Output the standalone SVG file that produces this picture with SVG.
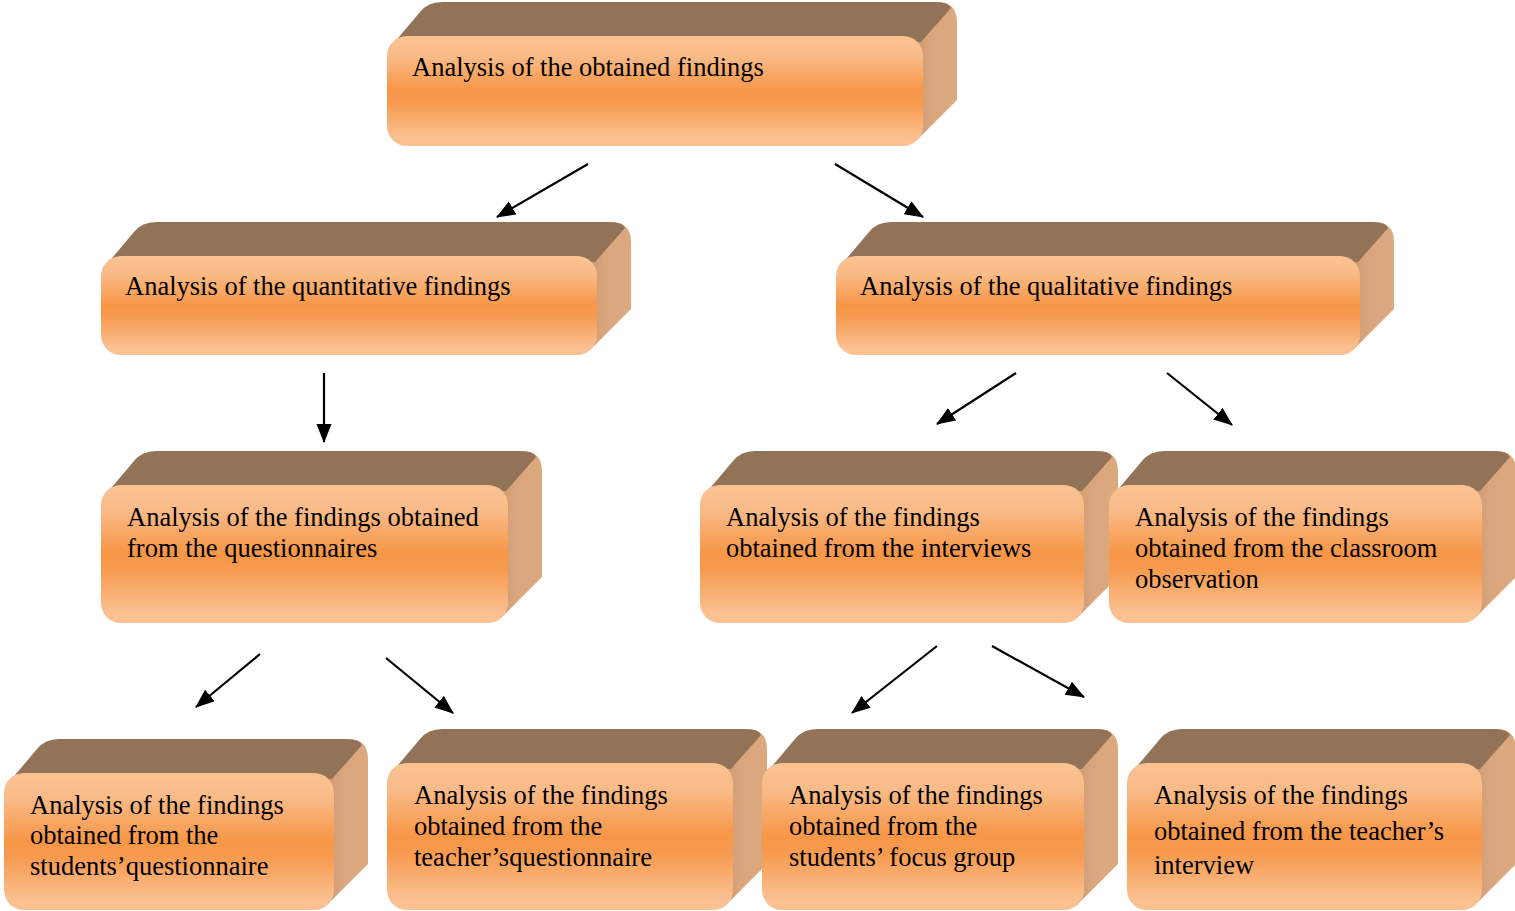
<svg xmlns="http://www.w3.org/2000/svg" width="1515" height="911" viewBox="0 0 1515 911">
<defs>
<linearGradient id="gFront" x1="0" y1="0" x2="0" y2="1">
<stop offset="0" stop-color="#FAC293"/>
<stop offset="0.18" stop-color="#F9BB88"/>
<stop offset="0.5" stop-color="#F79646"/>
<stop offset="0.62" stop-color="#F79B50"/>
<stop offset="0.92" stop-color="#FAC090"/>
<stop offset="1" stop-color="#FAC293"/>
</linearGradient>
<linearGradient id="gRight" x1="0" y1="0" x2="1" y2="0">
<stop offset="0" stop-color="#C4916B"/>
<stop offset="0.5" stop-color="#D9A57D"/>
<stop offset="1" stop-color="#DCA97F"/>
</linearGradient>
<marker id="ah" markerWidth="20" markerHeight="16" refX="18" refY="7.5" orient="auto" markerUnits="userSpaceOnUse">
<path d="M0,0 L19,7.5 L0,15 Z" fill="#000"/>
</marker>
<style>
.rf{fill:url(#gRight);}
.tf{fill:#937358;}
.ff{fill:url(#gFront);}
.ar{stroke:#000;stroke-width:2.2;fill:none;marker-end:url(#ah);}
</style>
</defs>
<rect width="1515" height="911" fill="#fff"/>
<g font-family="'Liberation Serif', 'Times New Roman', 'DejaVu Serif', serif" font-size="26.5" fill="#000">

<g id="box1">
<path class="rf" d="M903,36 L937,2 Q957,2 957,22 L957,100 L917,140 L917,36 Z"/>
<path class="tf" d="M393,44 L420,12 Q428,2 442,2 L935,2 Q949,2 951,8 L921,42 Z"/>
<rect class="ff" x="387" y="36" width="536" height="110" rx="20"/>
<text x="412" y="76">Analysis of the obtained findings</text>
</g>

<g id="box2">
<path class="rf" d="M577,256 L611,222 Q631,222 631,242 L631,309 L591,349 L591,256 Z"/>
<path class="tf" d="M107,264 L134,232 Q142,222 156,222 L609,222 Q623,222 625,228 L595,262 Z"/>
<rect class="ff" x="101" y="256" width="496" height="99" rx="20"/>
<text x="125" y="295">Analysis of the quantitative findings</text>
</g>

<g id="box3">
<path class="rf" d="M1340,256 L1374,222 Q1394,222 1394,242 L1394,309 L1354,349 L1354,256 Z"/>
<path class="tf" d="M842,264 L869,232 Q877,222 891,222 L1372,222 Q1386,222 1388,228 L1358,262 Z"/>
<rect class="ff" x="836" y="256" width="524" height="99" rx="20"/>
<text x="860" y="295">Analysis of the qualitative findings</text>
</g>

<g id="box4">
<path class="rf" d="M488,485 L522,451 Q542,451 542,471 L542,577 L502,617 L502,485 Z"/>
<path class="tf" d="M107,493 L134,461 Q142,451 156,451 L520,451 Q534,451 536,457 L506,491 Z"/>
<rect class="ff" x="101" y="485" width="407" height="138" rx="20"/>
<text x="127" y="526">Analysis of the findings obtained</text>
<text x="127" y="557">from the questionnaires</text>
</g>

<g id="box5">
<path class="rf" d="M1064,485 L1098,451 Q1118,451 1118,471 L1118,577 L1078,617 L1078,485 Z"/>
<path class="tf" d="M706,493 L733,461 Q741,451 755,451 L1096,451 Q1110,451 1112,457 L1082,491 Z"/>
<rect class="ff" x="700" y="485" width="384" height="138" rx="20"/>
<text x="726" y="526">Analysis of the findings</text>
<text x="726" y="557">obtained from the interviews</text>
</g>

<g id="box6">
<path class="rf" d="M1462,485 L1496,451 Q1516,451 1516,471 L1516,577 L1476,617 L1476,485 Z"/>
<path class="tf" d="M1115,493 L1142,461 Q1150,451 1164,451 L1494,451 Q1508,451 1510,457 L1480,491 Z"/>
<rect class="ff" x="1109" y="485" width="373" height="138" rx="20"/>
<text x="1135" y="526">Analysis of the findings</text>
<text x="1135" y="557">obtained from the classroom</text>
<text x="1135" y="588">observation</text>
</g>

<g id="box7">
<path class="rf" d="M314,773 L348,739 Q368,739 368,759 L368,864 L328,904 L328,773 Z"/>
<path class="tf" d="M10,781 L37,749 Q45,739 59,739 L346,739 Q360,739 362,745 L332,779 Z"/>
<rect class="ff" x="4" y="773" width="330" height="137" rx="20"/>
<text x="30" y="814">Analysis of the findings</text>
<text x="30" y="844">obtained from the</text>
<text x="30" y="875">students’questionnaire</text>
</g>

<g id="box8">
<path class="rf" d="M713,763 L747,729 Q767,729 767,749 L767,864 L727,904 L727,763 Z"/>
<path class="tf" d="M393,771 L420,739 Q428,729 442,729 L745,729 Q759,729 761,735 L731,769 Z"/>
<rect class="ff" x="387" y="763" width="346" height="147" rx="20"/>
<text x="414" y="804">Analysis of the findings</text>
<text x="414" y="835">obtained from the</text>
<text x="414" y="866">teacher’squestionnaire</text>
</g>

<g id="box9">
<path class="rf" d="M1064,763 L1098,729 Q1118,729 1118,749 L1118,864 L1078,904 L1078,763 Z"/>
<path class="tf" d="M768,771 L795,739 Q803,729 817,729 L1096,729 Q1110,729 1112,735 L1082,769 Z"/>
<rect class="ff" x="762" y="763" width="322" height="147" rx="20"/>
<text x="789" y="804">Analysis of the findings</text>
<text x="789" y="835">obtained from the</text>
<text x="789" y="866">students’ focus group</text>
</g>

<g id="box10">
<path class="rf" d="M1462,763 L1496,729 Q1516,729 1516,749 L1516,864 L1476,904 L1476,763 Z"/>
<path class="tf" d="M1133,771 L1160,739 Q1168,729 1182,729 L1494,729 Q1508,729 1510,735 L1480,769 Z"/>
<rect class="ff" x="1127" y="763" width="355" height="147" rx="20"/>
<text x="1154" y="804">Analysis of the findings</text>
<text x="1154" y="840">obtained from the teacher’s</text>
<text x="1154" y="874">interview</text>
</g>
</g>

<g id="connectors">
<line class="ar" x1="588" y1="164" x2="497" y2="217"/>
<line class="ar" x1="835" y1="164" x2="923" y2="217"/>
<line class="ar" x1="324" y1="373" x2="324" y2="442"/>
<line class="ar" x1="1016" y1="373" x2="937" y2="424"/>
<line class="ar" x1="1167" y1="373" x2="1232" y2="425"/>
<line class="ar" x1="260" y1="654" x2="196" y2="707"/>
<line class="ar" x1="386" y1="658" x2="453" y2="713"/>
<line class="ar" x1="937" y1="646" x2="852" y2="713"/>
<line class="ar" x1="992" y1="646" x2="1084" y2="697"/>
</g>
</svg>
